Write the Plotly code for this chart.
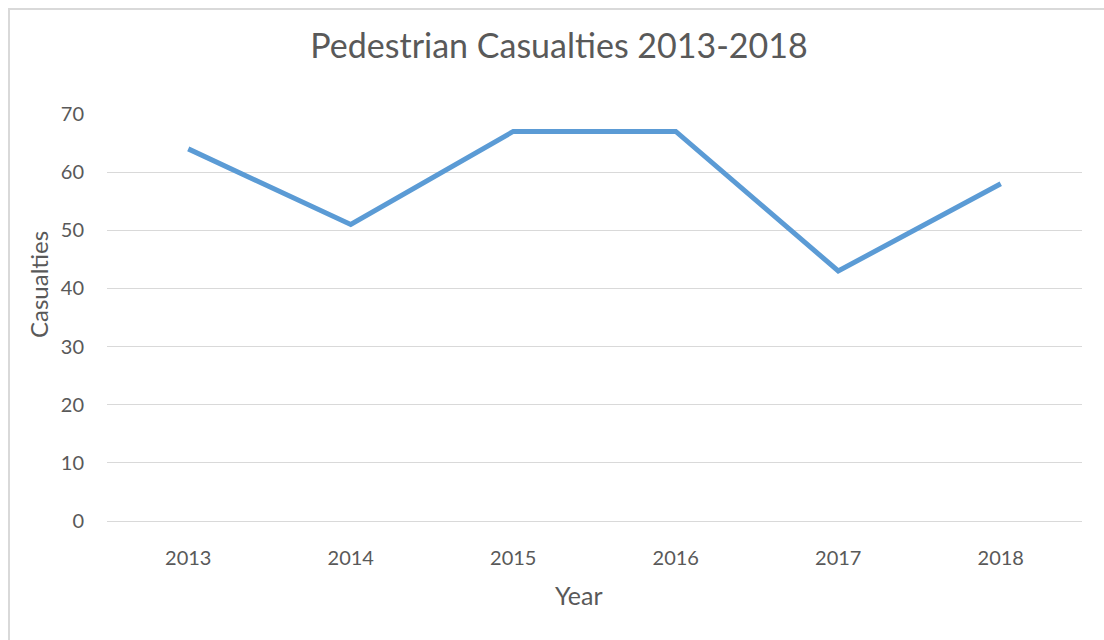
import plotly.graph_objects as go

years = ["2013", "2014", "2015", "2016", "2017", "2018"]
casualties = [64, 51, 67, 67, 43, 58]

FONT = "Lato"
GRAY = "#595959"

fig = go.Figure(go.Scatter(
    x=years, y=casualties, mode="lines",
    line=dict(color="#5B9BD5", width=5),
))

L, R, T, B = 107, 22, 114, 119
W, H = 1104, 640
pw, ph = W - L - R, H - T - B

fig.update_layout(
    width=W, height=H,
    margin=dict(l=L, r=R, t=T, b=B),
    paper_bgcolor="white", plot_bgcolor="white",
    showlegend=False,
    title=dict(text="Pedestrian Casualties 2013-2018", x=(559 - 0) / W, xanchor="center",
               y=1 - 46 / H, yanchor="middle",
               font=dict(family=FONT, size=34, color=GRAY)),
    font=dict(family=FONT, color=GRAY),
    xaxis=dict(type="category", range=[-0.5, 5.5], showgrid=False, zeroline=False,
               showline=False, ticks="", ticklabelstandoff=23,
               tickfont=dict(size=20, color=GRAY)),
    yaxis=dict(range=[0, 70], dtick=10, showgrid=True, gridcolor="#D9D9D9", gridwidth=1,
               zeroline=True, zerolinecolor="#D9D9D9", zerolinewidth=1,
               showline=False, ticks="", ticklabelstandoff=22,
               tickfont=dict(size=20, color=GRAY)),
    annotations=[
        dict(text="Year", xref="paper", yref="paper",
             x=(579 - L) / pw, y=(H - B - 595) / ph, xanchor="center", yanchor="middle",
             showarrow=False, font=dict(family=FONT, size=25, color=GRAY)),
        dict(text="Casualties", xref="paper", yref="paper", textangle=-90,
             x=(38 - L) / pw, y=(H - B - 285) / ph, xanchor="center", yanchor="middle",
             showarrow=False, font=dict(family=FONT, size=24, color=GRAY)),
    ],
)

fig.add_shape(type="rect", xref="paper", yref="paper",
              x0=(9 - L) / pw, x1=(W + 60 - L) / pw,
              y0=-0.5, y1=(H - B - 9) / ph,
              line=dict(color="#D9D9D9", width=2), fillcolor="rgba(0,0,0,0)", layer="below")

fig.write_html("out.html")
